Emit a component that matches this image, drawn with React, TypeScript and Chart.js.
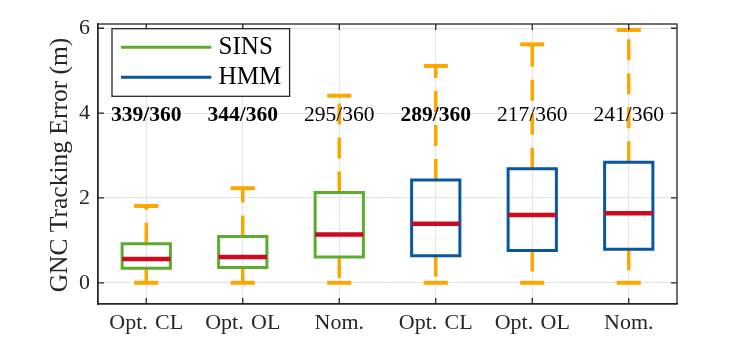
import React, { useEffect, useRef } from "react";
import { Chart, registerables } from "chart.js";

Chart.register(...registerables);

// ---- data ----
const categories = ["Opt. CL", "Opt. OL", "Nom.", "Opt. CL", "Opt. OL", "Nom."];
const groupOf = [0, 0, 0, 1, 1, 1];
const seriesNames = ["SINS", "HMM"];
const seriesColors = ["#5DAB2F", "#0A56A0"];
const lowerWhisker = [0, 0, 0, 0, 0, 0];
const q1 = [0.34, 0.36, 0.61, 0.64, 0.76, 0.79];
const median = [0.56, 0.61, 1.14, 1.39, 1.6, 1.64];
const q3 = [0.92, 1.09, 2.13, 2.42, 2.69, 2.84];
const upperWhisker = [1.81, 2.23, 4.41, 5.11, 5.62, 5.96];
const successLabels = ["339/360", "344/360", "295/360", "289/360", "217/360", "241/360"];
const successBold = [true, true, false, true, false, false];
const labelLevel = 4;
const yTicks = [0, 2, 4, 6];
const yMin = -0.5;
const yMax = 6.1;
const yTitle = "GNC Tracking Error (m)";

// ---- styles ----
const FONT = '"Liberation Serif", "Times New Roman", serif';
const AXIS = "#262626";
const GRID = "#E3E3E3";
const WHISKER = "#FBA700";
const MEDIAN = "#CE0A1F";
const BOX_HALF = 0.25;
const CAP_HALF = 0.125;

function buildDatasets() {
  const medians: any[] = [];
  const boxes: any[] = [];
  const caps: any[] = [];
  const whiskers: any[] = [];
  categories.forEach((_, i) => {
    const x = i + 1;
    medians.push({
      data: [
        { x: x - BOX_HALF, y: median[i] },
        { x: x + BOX_HALF, y: median[i] },
      ],
      borderColor: MEDIAN,
      borderWidth: 4.5,
    });
    boxes.push({
      data: [
        { x, y: q1[i] },
        { x: x + BOX_HALF, y: q1[i] },
        { x: x + BOX_HALF, y: q3[i] },
        { x: x - BOX_HALF, y: q3[i] },
        { x: x - BOX_HALF, y: q1[i] },
        { x, y: q1[i] },
      ],
      borderColor: seriesColors[groupOf[i]],
      borderWidth: 3,
      borderJoinStyle: "miter",
    });
    caps.push({
      data: [
        { x: x - CAP_HALF, y: upperWhisker[i] },
        { x: x + CAP_HALF, y: upperWhisker[i] },
      ],
      borderColor: WHISKER,
      borderWidth: 4,
    });
    caps.push({
      data: [
        { x: x - CAP_HALF, y: lowerWhisker[i] },
        { x: x + CAP_HALF, y: lowerWhisker[i] },
      ],
      borderColor: WHISKER,
      borderWidth: 4,
    });
    whiskers.push({
      data: [
        { x, y: q3[i] },
        { x, y: upperWhisker[i] },
      ],
      borderColor: WHISKER,
      borderWidth: 3.5,
      borderDash: [21, 13],
    });
    whiskers.push({
      data: [
        { x, y: q1[i] },
        { x, y: lowerWhisker[i] },
      ],
      borderColor: WHISKER,
      borderWidth: 3.5,
      borderDash: [21, 13],
    });
  });
  const all = [...medians, ...boxes, ...caps, ...whiskers];
  return all.map((d, k) => ({
    ...d,
    order: k,
    pointRadius: 0,
    pointHoverRadius: 0,
    fill: false,
    tension: 0,
    showLine: true,
    borderCapStyle: "butt",
  }));
}

const overlayPlugin = {
  id: "overlay",
  afterDraw(chart: any) {
    const { ctx, chartArea: a, scales } = chart;
    const xs = scales.x;
    const ys = scales.y;
    ctx.save();

    // frame
    ctx.strokeStyle = AXIS;
    ctx.lineWidth = 1.3;
    ctx.strokeRect(a.left, a.top, a.right - a.left, a.bottom - a.top);

    // inward ticks
    const TL = 6;
    ctx.beginPath();
    yTicks.forEach((v) => {
      const py = ys.getPixelForValue(v);
      ctx.moveTo(a.left, py);
      ctx.lineTo(a.left + TL, py);
      ctx.moveTo(a.right, py);
      ctx.lineTo(a.right - TL, py);
    });
    categories.forEach((_, i) => {
      const px = xs.getPixelForValue(i + 1);
      ctx.moveTo(px, a.bottom);
      ctx.lineTo(px, a.bottom - TL);
      ctx.moveTo(px, a.top);
      ctx.lineTo(px, a.top + TL);
    });
    ctx.stroke();

    // success annotations
    ctx.fillStyle = "#000";
    ctx.textAlign = "center";
    ctx.textBaseline = "alphabetic";
    successLabels.forEach((t, i) => {
      ctx.font = `${successBold[i] ? "bold " : ""}21.5px ${FONT}`;
      ctx.fillText(t, xs.getPixelForValue(i + 1), ys.getPixelForValue(labelLevel) + 7.5);
    });

    // y title
    ctx.save();
    ctx.translate(66.5, (a.top + a.bottom) / 2 + 1);
    ctx.rotate(-Math.PI / 2);
    ctx.font = `25.5px ${FONT}`;
    ctx.fillStyle = AXIS;
    ctx.textAlign = "center";
    ctx.textBaseline = "alphabetic";
    ctx.fillText(yTitle, 0, 0);
    ctx.restore();

    // legend
    const lx = a.left + 14;
    const ly = a.top + 4.7;
    const lw = 177.6;
    const lh = 67.6;
    ctx.fillStyle = "#fff";
    ctx.fillRect(lx, ly, lw, lh);
    ctx.strokeStyle = AXIS;
    ctx.lineWidth = 1.3;
    ctx.strokeRect(lx, ly, lw, lh);
    seriesNames.forEach((name, k) => {
      const cy = ly + 18.6 + k * 30;
      ctx.strokeStyle = seriesColors[k];
      ctx.lineWidth = 3;
      ctx.beginPath();
      ctx.moveTo(lx + 9, cy);
      ctx.lineTo(lx + 99.3, cy);
      ctx.stroke();
      ctx.fillStyle = "#000";
      ctx.font = `25px ${FONT}`;
      ctx.textAlign = "left";
      ctx.textBaseline = "alphabetic";
      ctx.fillText(name, lx + 106.6, cy + 6.7);
    });

    ctx.restore();
  },
};

export default function App() {
  const ref = useRef<HTMLCanvasElement | null>(null);
  useEffect(() => {
    if (!ref.current) return;
    const chart = new Chart(ref.current, {
      type: "line",
      data: { datasets: buildDatasets() as any },
      options: {
        animation: false,
        responsive: false,
        devicePixelRatio: 1,
        events: [],
        layout: { padding: { left: 0, top: 24, right: 70, bottom: 0 } },
        plugins: {
          legend: { display: false },
          tooltip: { enabled: false },
          title: { display: false },
        },
        scales: {
          x: {
            type: "linear",
            min: 0.5,
            max: 6.5,
            afterBuildTicks: (s: any) => {
              s.ticks = categories.map((_, i) => ({ value: i + 1 }));
            },
            afterFit: (s: any) => {
              s.height = 39;
            },
            ticks: {
              // slightly wider spacing after the period, as in the LaTeX-typeset original
              callback: (v: any) =>
                (categories[Math.round(Number(v)) - 1] ?? "").replace(". ", ". \u200A"),
              font: { family: FONT, size: 22 },
              color: AXIS,
              padding: 6,
              maxRotation: 0,
              autoSkip: false,
            },
            grid: { color: GRID, lineWidth: 1, drawTicks: false },
            border: { display: true, color: AXIS, width: 1.3 },
          },
          y: {
            type: "linear",
            min: yMin,
            max: yMax,
            afterBuildTicks: (s: any) => {
              s.ticks = yTicks.map((v) => ({ value: v }));
            },
            afterFit: (s: any) => {
              s.width = 98;
            },
            ticks: {
              font: { family: FONT, size: 22 },
              color: AXIS,
              padding: 8,
            },
            grid: { color: GRID, lineWidth: 1, drawTicks: false },
            border: { display: true, color: AXIS, width: 1.3 },
          },
        },
      },
      plugins: [overlayPlugin],
    });
    return () => chart.destroy();
  }, []);
  return (
    <div style={{ position: "absolute", left: 0, top: 0, width: 747, height: 343, background: "#fff" }}>
      <canvas ref={ref} width={747} height={343} style={{ display: "block" }} />
    </div>
  );
}
